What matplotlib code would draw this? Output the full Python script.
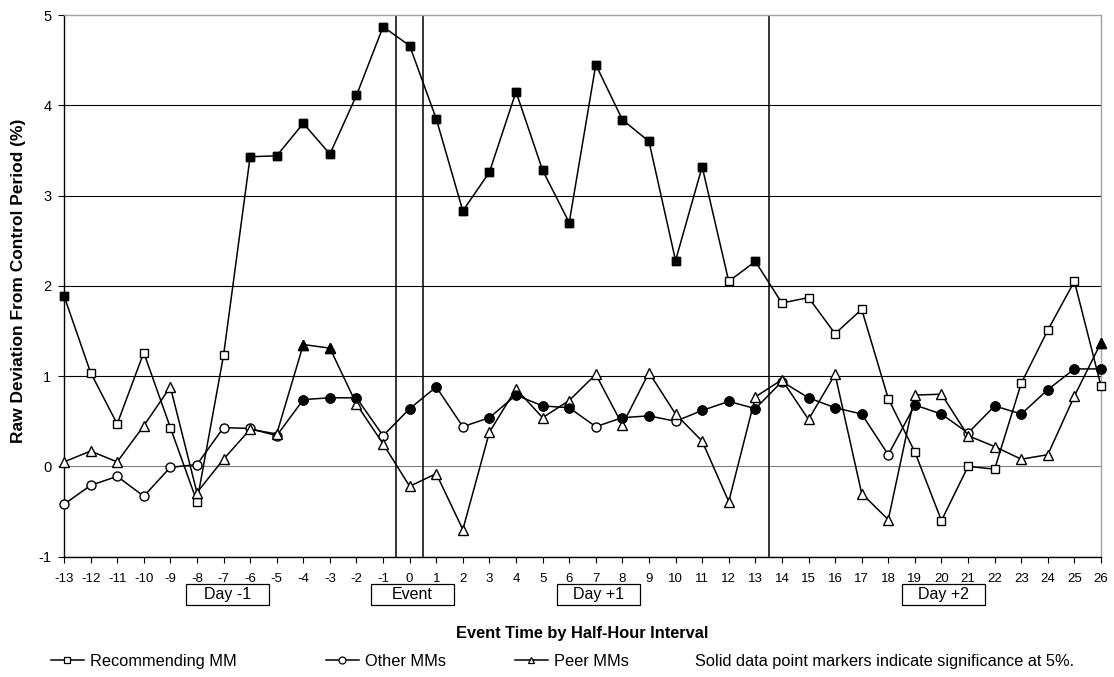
import numpy as np
import matplotlib.pyplot as plt
from matplotlib.lines import Line2D
from matplotlib.patches import Rectangle
import matplotlib.transforms as mtransforms

plt.rcParams['font.family'] = ['Liberation Sans', 'DejaVu Sans']
plt.rcParams['axes.unicode_minus'] = False

# event time (half-hour intervals)
event_time = list(range(-13, 27))

# raw deviation from control period (%)
recommending_mm = [1.89, 1.04, 0.47, 1.26, 0.43, -0.39, 1.23, 3.43, 3.44, 3.80,
                   3.46, 4.11, 4.87, 4.66, 3.85, 2.83, 3.26, 4.15, 3.28, 2.70,
                   4.45, 3.84, 3.60, 2.28, 3.32, 2.05, 2.27, 1.81, 1.87, 1.47,
                   1.74, 0.75, 0.16, -0.60, 0.00, -0.03, 0.92, 1.51, 2.05, 0.89]
other_mms = [-0.42, -0.21, -0.11, -0.33, -0.01, 0.02, 0.43, 0.42, 0.34, 0.74,
             0.76, 0.76, 0.34, 0.64, 0.88, 0.44, 0.54, 0.79, 0.67, 0.65,
             0.44, 0.54, 0.56, 0.50, 0.62, 0.72, 0.64, 0.94, 0.76, 0.65,
             0.58, 0.13, 0.68, 0.58, 0.37, 0.67, 0.58, 0.85, 1.08, 1.08]
peer_mms = [0.05, 0.17, 0.05, 0.45, 0.88, -0.29, 0.08, 0.41, 0.36, 1.35,
            1.31, 0.69, 0.25, -0.22, -0.08, -0.70, 0.38, 0.86, 0.54, 0.73,
            1.02, 0.46, 1.04, 0.58, 0.28, -0.39, 0.77, 0.96, 0.52, 1.02,
            -0.30, -0.59, 0.79, 0.80, 0.34, 0.22, 0.08, 0.13, 0.78, 1.37]

# significance at 5% (solid markers)
recommending_sig = [1, 0, 0, 0, 0, 0, 0, 1, 1, 1, 1, 1, 1, 1, 1, 1, 1, 1, 1, 1,
                    1, 1, 1, 1, 1, 0, 1, 0, 0, 0, 0, 0, 0, 0, 0, 0, 0, 0, 0, 0]
other_sig = [0, 0, 0, 0, 0, 0, 0, 0, 0, 1, 1, 1, 0, 1, 1, 0, 1, 1, 1, 1,
             0, 1, 1, 0, 1, 1, 1, 0, 1, 1, 1, 0, 1, 1, 0, 1, 1, 1, 1, 1]
peer_sig = [0, 0, 0, 0, 0, 0, 0, 0, 0, 1, 1, 0, 0, 0, 0, 0, 0, 0, 0, 0,
            0, 0, 0, 0, 0, 0, 0, 0, 0, 0, 0, 0, 0, 0, 0, 0, 0, 0, 0, 1]

series_names = ['Recommending MM', 'Other MMs', 'Peer MMs']
day_labels = ['Day -1', 'Event', 'Day +1', 'Day +2']
day_centers = [-6.85, 0.1, 7.1, 20.08]
window_edges = [-0.5, 0.5, 13.5]

fig = plt.figure(figsize=(11.14, 6.77), dpi=100)
ax = fig.add_axes([64 / 1114, 1 - 556.7 / 677, 1037 / 1114, 541.7 / 677])

styles = [('s', 6.3), ('o', 6.5), ('^', 7)]
x = np.array(event_time)
for vals, sig, (m, ms) in zip([recommending_mm, other_mms, peer_mms],
                              [recommending_sig, other_sig, peer_sig], styles):
    vals = np.array(vals)
    sig = np.array(sig, dtype=bool)
    ax.plot(x, vals, color='black', lw=1.1, marker=m, ms=ms,
            mfc='white', mec='black', mew=1.0, zorder=3, clip_on=False)
    ax.plot(x[sig], vals[sig], ls='none', marker=m, ms=ms,
            mfc='black', mec='black', mew=1.0, zorder=4, clip_on=False)

for xe in window_edges:
    ax.axvline(xe, color='black', lw=1.1, zorder=2)

for yv in range(-1, 5):
    ax.axhline(yv, color='#808080' if yv == 0 else 'black', lw=0.8, zorder=1)

ax.set_xlim(-13, 26)
ax.set_ylim(-1, 5)
ax.set_xticks(event_time)
ax.set_yticks(range(-1, 6))
ax.tick_params(axis='x', labelsize=9.5, length=4, width=0.8, pad=8, direction='out')
ax.tick_params(axis='y', labelsize=10.5, length=4, width=0.8, pad=5, direction='out')
for side in ['top', 'right']:
    ax.spines[side].set_color('#a0a0a0')
    ax.spines[side].set_linewidth(1.0)
for side in ['left', 'bottom']:
    ax.spines[side].set_color('black')
    ax.spines[side].set_linewidth(1.0)

# day labels boxes below the axis
trans = mtransforms.blended_transform_factory(ax.transData, ax.transAxes)
box_w = 83 / (1037 / 39)
box_h = 21 / 541.7
box_y = -(594.5 - 556.7) / 541.7
for lab, cx in zip(day_labels, day_centers):
    ax.add_patch(Rectangle((cx - box_w / 2, box_y - box_h / 2), box_w, box_h,
                           transform=trans, clip_on=False, fill=False,
                           ec='black', lw=0.9))
    ax.text(cx, box_y, lab, transform=trans, ha='center', va='center', fontsize=11.5)

ax.set_xlabel('Event Time by Half-Hour Interval', fontsize=11.8, fontweight='bold')
ax.xaxis.set_label_coords(0.5, -(626 - 556.7) / 541.7)
ax.set_ylabel('Raw Deviation From Control Period (%)', fontsize=12.5, fontweight='bold')
ax.yaxis.set_label_coords(-0.037, 0.51)

# legend row
leg_y = 1 - 661.7 / 677
leg_x = [51 / 1114, 326 / 1114, 515 / 1114]
for name, (m, ms), lx in zip(series_names, styles, leg_x):
    h = Line2D([], [], color='black', lw=1.1, marker=m, ms=5,
               mfc='white', mec='black', mew=0.9)
    fig.legend([h], [name], loc='center left', bbox_to_anchor=(lx, leg_y),
               frameon=False, fontsize=11.8, handlelength=2.0,
               handletextpad=0.35, borderpad=0, borderaxespad=0)
fig.text(695 / 1114, leg_y, 'Solid data point markers indicate significance at 5%.',
         ha='left', va='center', fontsize=11.8)

fig.savefig('out.png', dpi=100)
